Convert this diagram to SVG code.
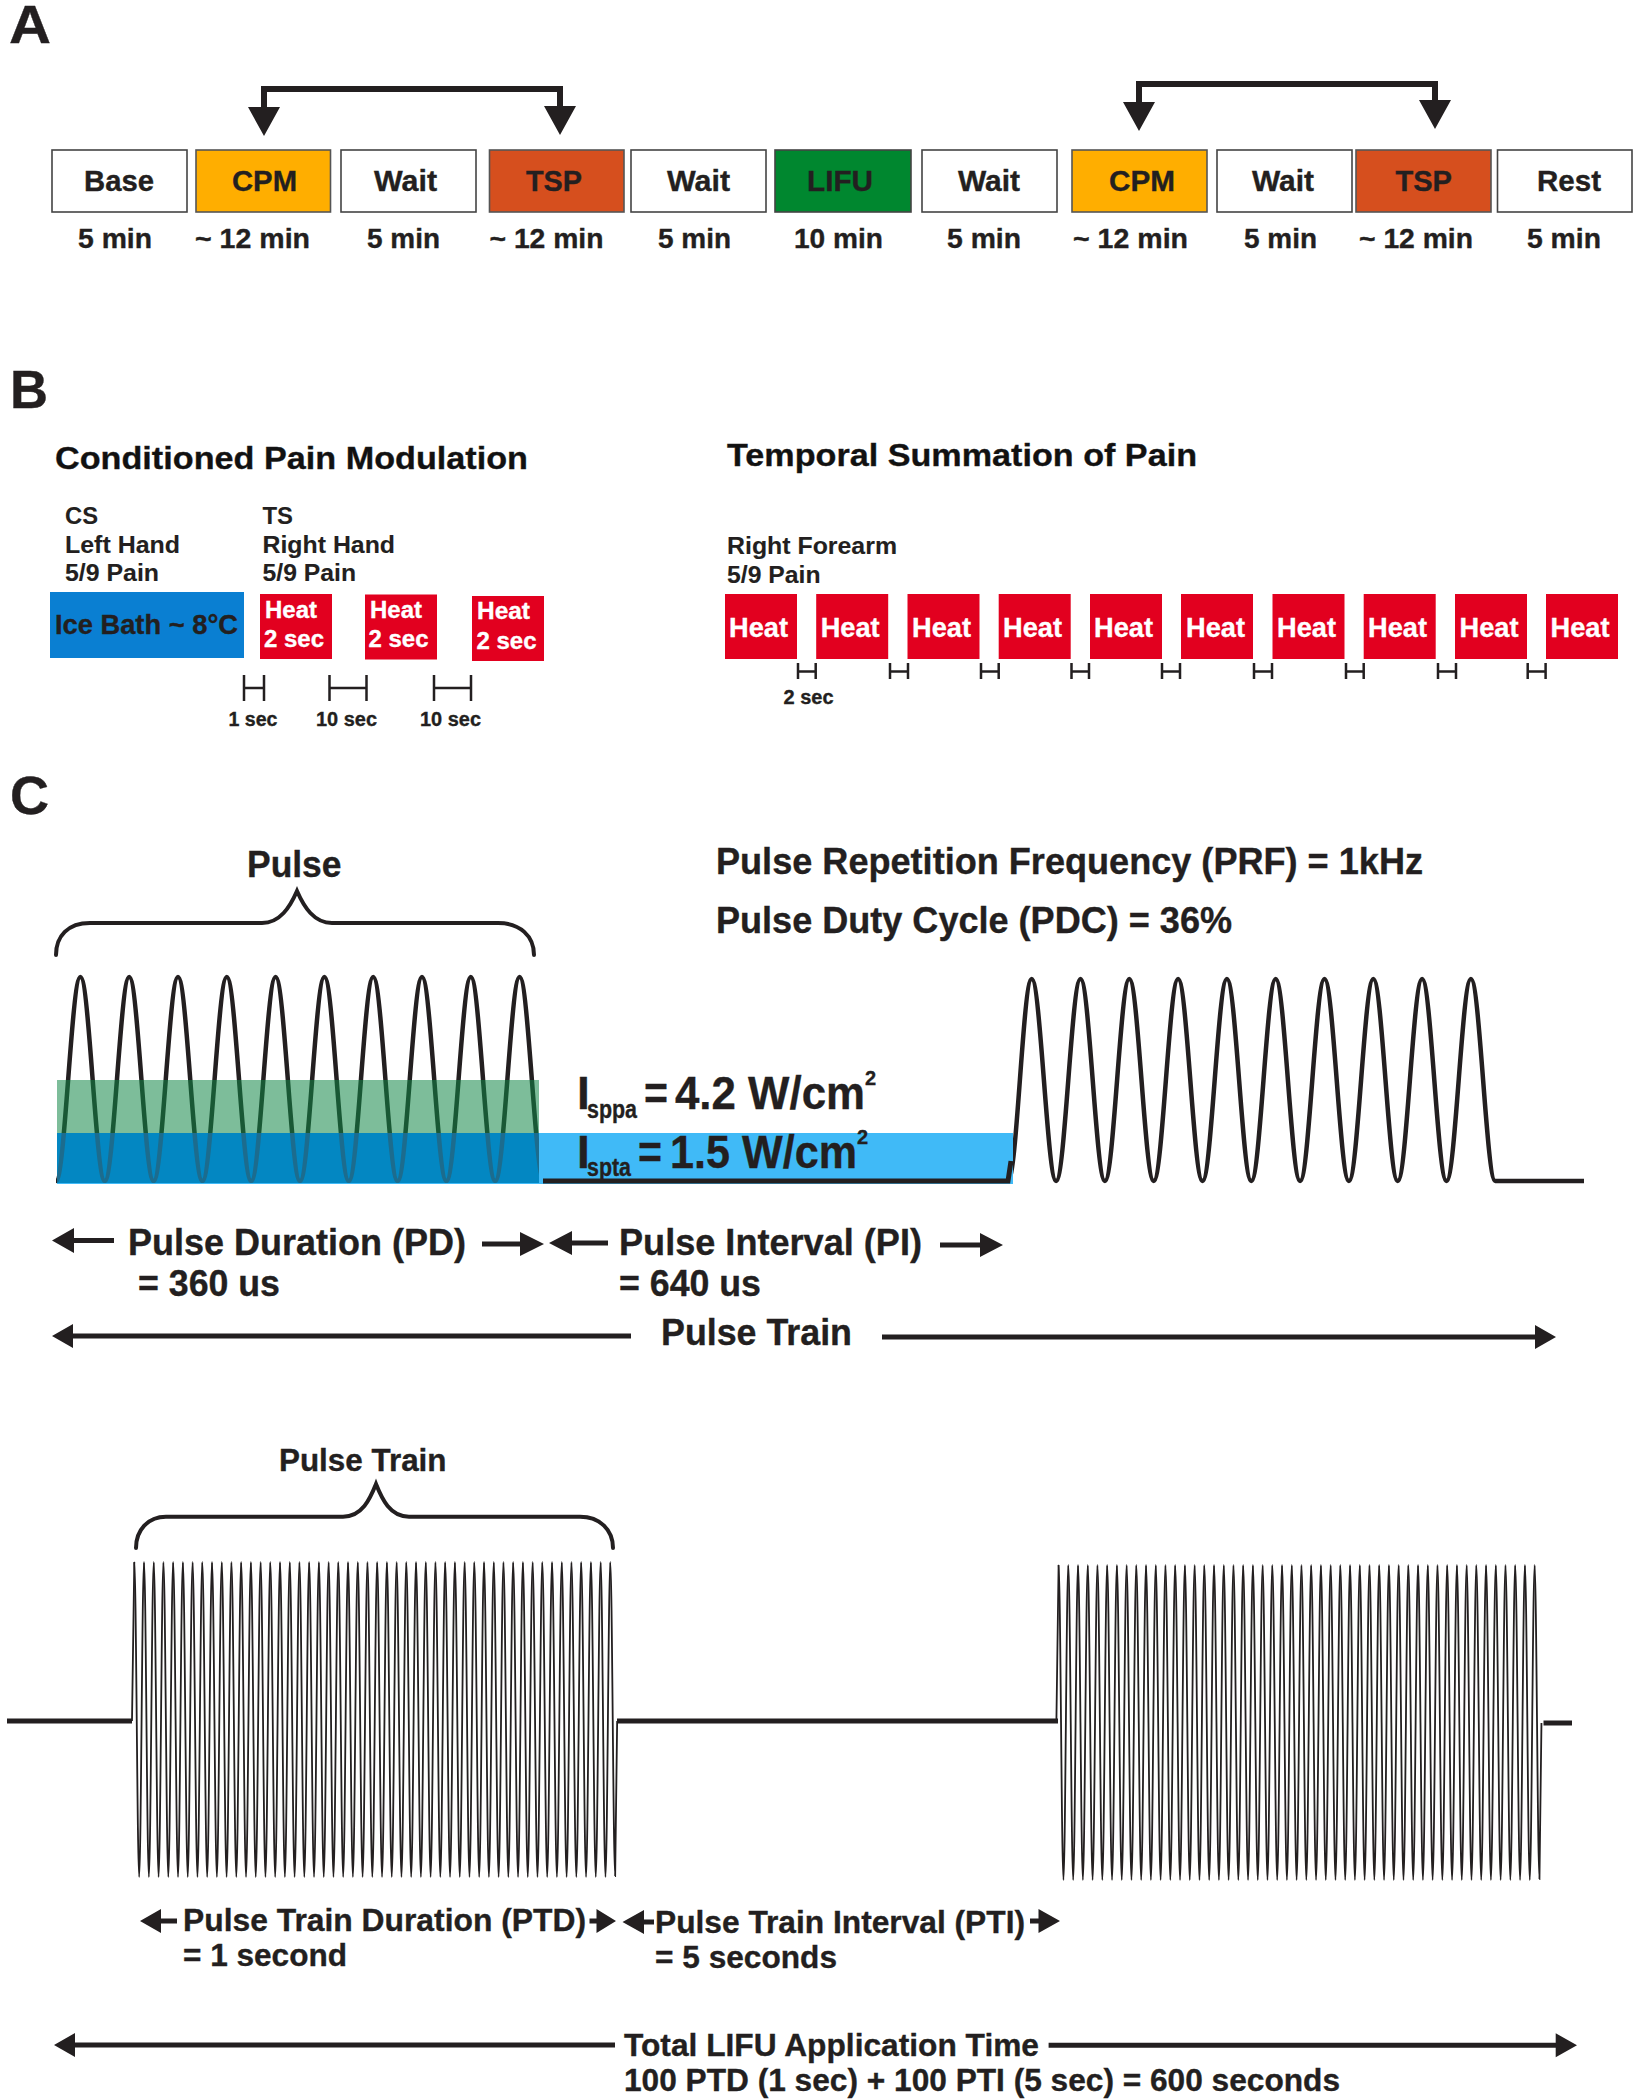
<svg xmlns="http://www.w3.org/2000/svg" xmlns:xlink="http://www.w3.org/1999/xlink" width="1635" height="2100" viewBox="0 0 1635 2100">
<style>
text{font-family:"Liberation Sans",Arial,sans-serif;font-weight:700;fill:#231f20;stroke:#231f20;stroke-width:.35}
.panel{font-size:54px}
.box{font-size:29px}
.dur{font-size:27px}
.title{font-size:32px;fill:#111}
.lbl{font-size:24px;stroke-width:.1}
.small{font-size:20px}
.heat{font-size:24px;fill:#fff;stroke:#fff}
.heat2{font-size:27px;fill:#fff;stroke:#fff}
.c1{font-size:37px}
.c2{font-size:36px}
.c3{font-size:32px}
.wb{fill:#fff;stroke:#444;stroke-width:1.6}
.cpm{fill:#ffae00;stroke:#555;stroke-width:1.6}
.tsp{fill:#d64f1e;stroke:#555;stroke-width:1.6}
.lifu{fill:#00872f;stroke:#444;stroke-width:1.6}
.red{fill:#e2001f}
.ln{fill:none;stroke:#231f20}
.fl{fill:#231f20}
.wave{fill:none;stroke:#231f20;stroke-width:4.500}
.fine{fill:none;stroke:#231f20;stroke-width:1.800}
</style>
<defs>
<path id="cy" d="M0,0c1.77,0 3.09,315 4.857,315s3.09,-315 4.857,-315"/>
<g id="cy5"><use xlink:href="#cy"/><use xlink:href="#cy" x="9.715"/><use xlink:href="#cy" x="19.43"/><use xlink:href="#cy" x="29.145"/><use xlink:href="#cy" x="38.86"/></g>
<g id="train">
<use xlink:href="#cy5"/><use xlink:href="#cy5" x="48.575"/><use xlink:href="#cy5" x="97.15"/><use xlink:href="#cy5" x="145.725"/><use xlink:href="#cy5" x="194.3"/><use xlink:href="#cy5" x="242.875"/><use xlink:href="#cy5" x="291.45"/><use xlink:href="#cy5" x="340.025"/><use xlink:href="#cy5" x="388.6"/>
<use xlink:href="#cy" x="437.175"/><use xlink:href="#cy" x="446.89"/><use xlink:href="#cy" x="456.605"/><use xlink:href="#cy" x="466.32"/>
</g>
<path id="pulse1" d="M56,1181c8.9,0 15.5,-204 24.4,-204s15.5,204 24.4,204c8.9,0 15.5,-204 24.4,-204s15.5,204 24.4,204c8.9,0 15.5,-204 24.4,-204s15.5,204 24.4,204c8.9,0 15.5,-204 24.4,-204s15.5,204 24.4,204c8.9,0 15.5,-204 24.4,-204s15.5,204 24.4,204c8.9,0 15.5,-204 24.4,-204s15.5,204 24.4,204c8.9,0 15.5,-204 24.4,-204s15.5,204 24.4,204c8.9,0 15.5,-204 24.4,-204s15.5,204 24.4,204c8.9,0 15.5,-204 24.4,-204s15.5,204 24.4,204c8.9,0 15.5,-204 24.4,-204s15.5,204 24.4,204"/>
<clipPath id="darkband"><rect x="57" y="1133" width="482" height="50"/></clipPath>
</defs>
<rect width="1635" height="2100" fill="#fff"/>

<g id="panel-labels">
<text class="panel" x="9" y="43" textLength="42" lengthAdjust="spacingAndGlyphs">A</text>
<text class="panel" x="10" y="408" textLength="38" lengthAdjust="spacingAndGlyphs">B</text>
<text class="panel" x="10" y="814" textLength="39" lengthAdjust="spacingAndGlyphs">C</text>
</g>

<g id="a-base"><rect class="wb" x="52" y="150" width="135" height="62"/><text class="box" x="84" y="191" textLength="70" lengthAdjust="spacingAndGlyphs">Base</text><text class="dur" x="78" y="248" textLength="74" lengthAdjust="spacingAndGlyphs">5 min</text></g>
<g id="a-cpm1"><rect class="cpm" x="196" y="150" width="134.500" height="62"/><text class="box" x="232" y="191" textLength="65" lengthAdjust="spacingAndGlyphs">CPM</text><text class="dur" x="195" y="248" textLength="115" lengthAdjust="spacingAndGlyphs">~ 12 min</text></g>
<g id="a-wait1"><rect class="wb" x="341" y="150" width="135" height="62"/><text class="box" x="374" y="191" textLength="63" lengthAdjust="spacingAndGlyphs">Wait</text><text class="dur" x="367" y="248" textLength="73" lengthAdjust="spacingAndGlyphs">5 min</text></g>
<g id="a-tsp1"><rect class="tsp" x="489.500" y="150" width="134.500" height="62"/><text class="box" x="526" y="191" textLength="56" lengthAdjust="spacingAndGlyphs">TSP</text><text class="dur" x="489.500" y="248" textLength="114" lengthAdjust="spacingAndGlyphs">~ 12 min</text></g>
<g id="a-wait2"><rect class="wb" x="631" y="150" width="135" height="62"/><text class="box" x="667" y="191" textLength="63" lengthAdjust="spacingAndGlyphs">Wait</text><text class="dur" x="658" y="248" textLength="73" lengthAdjust="spacingAndGlyphs">5 min</text></g>
<g id="a-lifu"><rect class="lifu" x="775" y="150" width="136" height="62"/><text class="box" x="807" y="191" textLength="66" lengthAdjust="spacingAndGlyphs">LIFU</text><text class="dur" x="794" y="248" textLength="89" lengthAdjust="spacingAndGlyphs">10 min</text></g>
<g id="a-wait3"><rect class="wb" x="922" y="150" width="135" height="62"/><text class="box" x="958" y="191" textLength="62" lengthAdjust="spacingAndGlyphs">Wait</text><text class="dur" x="947" y="248" textLength="74" lengthAdjust="spacingAndGlyphs">5 min</text></g>
<g id="a-cpm2"><rect class="cpm" x="1072" y="150" width="135" height="62"/><text class="box" x="1109" y="191" textLength="66" lengthAdjust="spacingAndGlyphs">CPM</text><text class="dur" x="1073" y="248" textLength="115" lengthAdjust="spacingAndGlyphs">~ 12 min</text></g>
<g id="a-wait4"><rect class="wb" x="1217" y="150" width="135" height="62"/><text class="box" x="1252" y="191" textLength="62" lengthAdjust="spacingAndGlyphs">Wait</text><text class="dur" x="1244" y="248" textLength="73" lengthAdjust="spacingAndGlyphs">5 min</text></g>
<g id="a-tsp2"><rect class="tsp" x="1356" y="150" width="135" height="62"/><text class="box" x="1395.500" y="191" textLength="56.500" lengthAdjust="spacingAndGlyphs">TSP</text><text class="dur" x="1359" y="248" textLength="114" lengthAdjust="spacingAndGlyphs">~ 12 min</text></g>
<g id="a-rest"><rect class="wb" x="1497.500" y="150" width="134.500" height="62"/><text class="box" x="1537" y="191" textLength="64" lengthAdjust="spacingAndGlyphs">Rest</text><text class="dur" x="1527" y="248" textLength="74" lengthAdjust="spacingAndGlyphs">5 min</text></g>

<g id="b-cpm">
<text class="title" x="55" y="469" textLength="473" lengthAdjust="spacingAndGlyphs">Conditioned Pain Modulation</text>
<text class="lbl" x="65" y="524" textLength="33" lengthAdjust="spacingAndGlyphs">CS</text>
<text class="lbl" x="65" y="553" textLength="115" lengthAdjust="spacingAndGlyphs">Left Hand</text>
<text class="lbl" x="65" y="581" textLength="94" lengthAdjust="spacingAndGlyphs">5/9 Pain</text>
<text class="lbl" x="262.500" y="524" textLength="30.500" lengthAdjust="spacingAndGlyphs">TS</text>
<text class="lbl" x="262.500" y="553" textLength="132.500" lengthAdjust="spacingAndGlyphs">Right Hand</text>
<text class="lbl" x="262.500" y="581" textLength="93.500" lengthAdjust="spacingAndGlyphs">5/9 Pain</text>
</g>
<g id="b-ice"><rect x="50" y="592" width="194" height="66" fill="#0a7fd2"/><text x="55" y="634" font-size="27" textLength="183" lengthAdjust="spacingAndGlyphs">Ice Bath ~ 8°C</text></g>
<g id="b-heat1"><rect class="red" x="260" y="594" width="72" height="65"/><text class="heat" x="265" y="618" textLength="52" lengthAdjust="spacingAndGlyphs">Heat</text><text class="heat" x="264" y="647" textLength="60" lengthAdjust="spacingAndGlyphs">2 sec</text></g>
<g id="b-heat2"><rect class="red" x="365" y="594.500" width="72" height="65"/><text class="heat" x="370" y="618" textLength="52" lengthAdjust="spacingAndGlyphs">Heat</text><text class="heat" x="368.500" y="647" textLength="60" lengthAdjust="spacingAndGlyphs">2 sec</text></g>
<g id="b-heat3"><rect class="red" x="472" y="596" width="72" height="65"/><text class="heat" x="477" y="619" textLength="53" lengthAdjust="spacingAndGlyphs">Heat</text><text class="heat" x="476.500" y="649" textLength="60" lengthAdjust="spacingAndGlyphs">2 sec</text></g>
<g id="b-gap-labels">
<text class="small" x="228.500" y="726" textLength="49" lengthAdjust="spacingAndGlyphs">1 sec</text>
<text class="small" x="316" y="726" textLength="61" lengthAdjust="spacingAndGlyphs">10 sec</text>
<text class="small" x="420" y="726" textLength="61" lengthAdjust="spacingAndGlyphs">10 sec</text>
</g>

<g id="b-tsp">
<text class="title" x="727" y="466" textLength="470" lengthAdjust="spacingAndGlyphs">Temporal Summation of Pain</text>
<text class="lbl" x="727" y="554" textLength="170" lengthAdjust="spacingAndGlyphs">Right Forearm</text>
<text class="lbl" x="727" y="583" textLength="93.500" lengthAdjust="spacingAndGlyphs">5/9 Pain</text>
<text class="small" x="783.500" y="704" textLength="50" lengthAdjust="spacingAndGlyphs">2 sec</text>
</g>
<g id="t-heat1"><rect class="red" x="725" y="594" width="72" height="65"/><text class="heat2" x="729" y="637" textLength="59" lengthAdjust="spacingAndGlyphs">Heat</text></g>
<g id="t-heat2"><rect class="red" x="816.200" y="594" width="72" height="65"/><text class="heat2" x="820.700" y="637" textLength="59" lengthAdjust="spacingAndGlyphs">Heat</text></g>
<g id="t-heat3"><rect class="red" x="907.500" y="594" width="72" height="65"/><text class="heat2" x="912" y="637" textLength="59" lengthAdjust="spacingAndGlyphs">Heat</text></g>
<g id="t-heat4"><rect class="red" x="998.700" y="594" width="72" height="65"/><text class="heat2" x="1003" y="637" textLength="59" lengthAdjust="spacingAndGlyphs">Heat</text></g>
<g id="t-heat5"><rect class="red" x="1090" y="594" width="72" height="65"/><text class="heat2" x="1094" y="637" textLength="59" lengthAdjust="spacingAndGlyphs">Heat</text></g>
<g id="t-heat6"><rect class="red" x="1181" y="594" width="72" height="65"/><text class="heat2" x="1186" y="637" textLength="59" lengthAdjust="spacingAndGlyphs">Heat</text></g>
<g id="t-heat7"><rect class="red" x="1272.500" y="594" width="72" height="65"/><text class="heat2" x="1277" y="637" textLength="59" lengthAdjust="spacingAndGlyphs">Heat</text></g>
<g id="t-heat8"><rect class="red" x="1363.700" y="594" width="72" height="65"/><text class="heat2" x="1368" y="637" textLength="59" lengthAdjust="spacingAndGlyphs">Heat</text></g>
<g id="t-heat9"><rect class="red" x="1455" y="594" width="72" height="65"/><text class="heat2" x="1459.500" y="637" textLength="59" lengthAdjust="spacingAndGlyphs">Heat</text></g>
<g id="t-heat10"><rect class="red" x="1546" y="594" width="72" height="65"/><text class="heat2" x="1550.500" y="637" textLength="59" lengthAdjust="spacingAndGlyphs">Heat</text></g>

<g id="c-pulse-waveform">
<use xlink:href="#pulse1" class="wave"/>
<path class="wave" d="M1008,1181c8.9,0 14.900,-202 23.700,-202s15.600,202 24.400,202c8.900,0 15.500,-202 24.400,-202s15.500,202 24.400,202c8.900,0 15.500,-202 24.400,-202s15.500,202 24.400,202c8.900,0 15.500,-202 24.400,-202s15.500,202 24.400,202c8.900,0 15.500,-202 24.400,-202s15.500,202 24.400,202c8.900,0 15.500,-202 24.400,-202s15.500,202 24.400,202c8.900,0 15.500,-202 24.400,-202s15.500,202 24.400,202c8.900,0 15.500,-202 24.400,-202s15.500,202 24.400,202c8.900,0 15.500,-202 24.400,-202s15.500,202 24.400,202c8.900,0 15.500,-202 24.400,-202s15.500,202 24.400,202H1584"/>
<rect x="57" y="1080" width="482" height="53" fill="#138747" opacity=".55"/>
<rect x="57" y="1133" width="956" height="51" fill="#40baf7"/>
<rect x="57" y="1133" width="482" height="50" fill="#0387c2"/>
<use xlink:href="#pulse1" class="wave" style="stroke:#1c6c8e" clip-path="url(#darkband)"/>
<path class="ln" stroke-width="5" d="M543,1181H1008l3,-20"/>
</g>
<g id="c-intensity">
<text x="577" y="1109" font-size="46">I</text><text x="587" y="1117.500" font-size="25" textLength="50" lengthAdjust="spacingAndGlyphs">sppa</text><text x="644" y="1109" font-size="46" textLength="24" lengthAdjust="spacingAndGlyphs">=</text><text x="675" y="1109" font-size="46" textLength="190" lengthAdjust="spacingAndGlyphs">4.2 W/cm</text><text x="865" y="1085" font-size="20">2</text>
<text x="577" y="1167.500" font-size="46">I</text><text x="587" y="1176" font-size="25" textLength="44" lengthAdjust="spacingAndGlyphs">spta</text><text x="638" y="1167.500" font-size="46" textLength="24" lengthAdjust="spacingAndGlyphs">=</text><text x="670" y="1167.500" font-size="46" textLength="187" lengthAdjust="spacingAndGlyphs">1.5 W/cm</text><text x="857" y="1144" font-size="20">2</text>
</g>
<g id="c-pulse-labels">
<text x="247" y="877" font-size="36" textLength="94.500" lengthAdjust="spacingAndGlyphs">Pulse</text>
<text class="c2" x="716" y="874" textLength="707" lengthAdjust="spacingAndGlyphs">Pulse Repetition Frequency (PRF) = 1kHz</text>
<text class="c2" x="716" y="933" textLength="516" lengthAdjust="spacingAndGlyphs">Pulse Duty Cycle (PDC) = 36%</text>
<text class="c1" x="128" y="1255" textLength="338" lengthAdjust="spacingAndGlyphs">Pulse Duration (PD)</text>
<text class="c1" x="138" y="1296" textLength="142" lengthAdjust="spacingAndGlyphs">= 360 us</text>
<text class="c1" x="619" y="1255" textLength="303" lengthAdjust="spacingAndGlyphs">Pulse Interval (PI)</text>
<text class="c1" x="619" y="1296" textLength="142" lengthAdjust="spacingAndGlyphs">= 640 us</text>
<text class="c1" x="661" y="1345" textLength="191" lengthAdjust="spacingAndGlyphs">Pulse Train</text>
</g>

<g id="c-train-waveforms">
<path class="ln" stroke-width="5" d="M7,1721H132M617,1721H1058M1543.500,1723H1572"/>
<use xlink:href="#train" class="fine" x="134.300" y="1562"/>
<path class="fine" d="M132,1721L134.300,1562M610.300,1562c1.770,0 3.090,314 4.860,314l2,-155"/>
<use xlink:href="#train" class="fine" x="1058.600" y="1565"/>
<path class="fine" d="M1056.400,1721L1058.600,1565M1534.600,1565c1.770,0 3.090,314 4.860,314l2,-156"/>
</g>
<g id="c-train-labels">
<text x="279" y="1471" font-size="31" textLength="167.500" lengthAdjust="spacingAndGlyphs">Pulse Train</text>
<text class="c3" x="183" y="1930.500" textLength="403" lengthAdjust="spacingAndGlyphs">Pulse Train Duration (PTD)</text>
<text class="c3" x="183" y="1965.500" textLength="164" lengthAdjust="spacingAndGlyphs">= 1 second</text>
<text class="c3" x="655" y="1932.500" textLength="370" lengthAdjust="spacingAndGlyphs">Pulse Train Interval (PTI)</text>
<text class="c3" x="655" y="1967.500" textLength="182" lengthAdjust="spacingAndGlyphs">= 5 seconds</text>
<text class="c3" x="624" y="2055.500" textLength="415" lengthAdjust="spacingAndGlyphs">Total LIFU Application Time</text>
<text class="c3" x="624" y="2090.500" textLength="716" lengthAdjust="spacingAndGlyphs">100 PTD (1 sec) + 100 PTI (5 sec) = 600 seconds</text>
</g>

<g id="connectors">
<path class="ln" stroke-width="6" d="M264,108V89H560V106"/>
<path class="fl" d="M248,107H280L264,136ZM544,106H576L560,135Z"/>
<path class="ln" stroke-width="6" d="M1139,103V84H1435V101"/>
<path class="fl" d="M1123,102H1155L1139,131ZM1419,100H1451L1435,129Z"/>
<path class="ln" stroke-width="2.500" d="M244,675V701M264,675V701M244,688H264M329.500,675V701M366.500,675V701M329.500,688H366.500M434,675V701M471,675V701M434,688H471"/>
<path class="ln" stroke-width="2.500" d="M798,663V679M815.700,663V679M798,671.500H815.700M890,663V679M908,663V679M890,671.500H908M981,663V679M998.700,663V679M981,671.500H998.700M1071.500,663V679M1089,663V679M1071.500,671.500H1089M1162,663V679M1180,663V679M1162,671.500H1180M1254,663V679M1272,663V679M1254,671.500H1272M1346,663V679M1363.700,663V679M1346,671.500H1363.700M1438,663V679M1456,663V679M1438,671.500H1456M1527.700,663V679M1545.600,663V679M1527.700,671.500H1545.600"/>
<path class="ln" stroke-width="4" stroke-linecap="round" d="M56,955C56,936 68,923 90,923H262C280,923 290,907 297,891C304,907 314,923 332,923H498C520,923 534,936 534,955"/>
<path class="ln" stroke-width="4" stroke-linecap="round" d="M136,1548C136,1530 148,1516.700 166,1516.700H343C362,1516.700 370,1499 376,1484C382,1499 390,1516.700 409,1516.700H580C600,1516.700 613,1530 613,1548"/>
<path class="ln" stroke-width="5" d="M74,1240.500H114M482,1244H522M570,1243H608M940,1245H982M72,1336H631M882,1337H1536M160,1921H177M589.500,1921H598M643,1922H654M1030,1921H1040M74,2045H615M1048.600,2045.300H1557"/>
<path class="fl" d="M52,1240.500L74,1228V1253ZM544,1244L520,1232V1256ZM549,1243L572,1231V1255ZM1003,1245L980,1233V1257ZM52,1336L73,1324V1348ZM1556,1337L1535,1325V1349ZM140,1921L161,1909V1933ZM616,1921L596.500,1909V1933ZM622.500,1922L644,1910V1934ZM1060,1921L1038.500,1909V1933ZM54,2045L75,2033V2057ZM1577,2045.300L1555.700,2033.300V2057.300Z"/>
</g>
</svg>
